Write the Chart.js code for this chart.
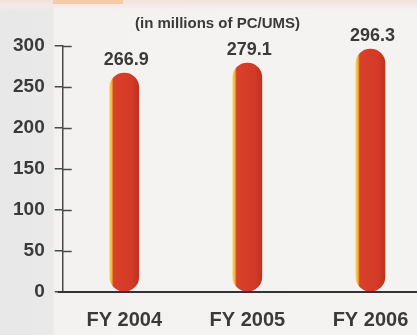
<!DOCTYPE html>
<html>
<head>
<meta charset="utf-8">
<script src="https://cdn.jsdelivr.net/npm/chart.js@4/dist/chart.umd.min.js"></script>
<style>
	html, body {
		margin: 0;
		padding: 0;
		width: 417px;
		height: 335px;
		overflow: hidden;
	}
	body {
		position: relative;
		background:
			linear-gradient(to bottom, #f2e2dc 0px, #f4ebe7 6px, rgba(0,0,0,0) 10px),
			linear-gradient(to right, #e8e8e8 0px, #e9e9e9 52px, #f4f2f1 55px, #f5f3f2 100%);
	}
	#band {
		position: absolute;
		left: 53px;
		top: 0;
		width: 70px;
		height: 4px;
		background: #f5cba8;
	}
	#wrap {
		position: absolute;
		left: 0;
		top: 0;
		width: 440px;
		height: 335px;
	}
</style>
</head>
<body>
<div id="band"></div>
<div id="wrap"><canvas id="pcChart" width="440" height="335"></canvas></div>
<script>
	var categories = ['FY 2004', 'FY 2005', 'FY 2006'];
	var volumes = [266.9, 279.1, 296.3];
	var yTicks = [0, 50, 100, 150, 200, 250, 300];

	var textColor = '#3a3a3a';
	var axisColor = '#4a4a4a';
	var fontFamily = '"Liberation Sans", Arial, sans-serif';
	var barWidth = 29;

	// yellow rim on the left, red body, darker right edge
	function barFill(context) {
		var chart = context.chart;
		var xScale = chart.scales.x;
		if (!xScale || !chart.chartArea) {
			return '#d33a27';
		}
		var cx = xScale.getPixelForValue(context.dataIndex);
		var g = chart.ctx.createLinearGradient(cx - barWidth / 2, 0, cx + barWidth / 2, 0);
		g.addColorStop(0, '#f7d04e');
		g.addColorStop(0.07, '#f1b23a');
		g.addColorStop(0.13, '#d9412a');
		g.addColorStop(0.75, '#d33a27');
		g.addColorStop(1, '#bd3220');
		return g;
	}

	// value above each bar
	var valueLabels = {
		id: 'valueLabels',
		afterDatasetsDraw: function(chart) {
			var ctx = chart.ctx;
			var meta = chart.getDatasetMeta(0);
			ctx.save();
			ctx.font = 'bold 18px ' + fontFamily;
			ctx.fillStyle = textColor;
			ctx.textAlign = 'center';
			ctx.textBaseline = 'bottom';
			meta.data.forEach(function(bar, i) {
				ctx.fillText(volumes[i].toFixed(1), bar.x + 2, bar.y - 4);
			});
			ctx.restore();
		}
	};

	// baseline and the inner half of the y ticks
	var axisMarks = {
		id: 'axisMarks',
		afterDatasetsDraw: function(chart) {
			var ctx = chart.ctx;
			var area = chart.chartArea;
			var y = chart.scales.y;
			ctx.save();
			ctx.strokeStyle = axisColor;
			ctx.lineWidth = 1.5;
			yTicks.forEach(function(v) {
				if (v === 0) return;
				var py = Math.round(y.getPixelForValue(v)) + 0.5;
				ctx.beginPath();
				ctx.moveTo(area.left, py);
				ctx.lineTo(area.left + 9, py);
				ctx.stroke();
			});
			ctx.strokeStyle = '#333';
			ctx.lineWidth = 2;
			ctx.beginPath();
			ctx.moveTo(area.left - 5, area.bottom);
			ctx.lineTo(chart.width, area.bottom);
			ctx.stroke();
			ctx.restore();
		}
	};

	var data = {
		labels: categories,
		datasets: [{
			data: volumes,
			backgroundColor: barFill,
			borderWidth: 0,
			borderRadius: 15,
			borderSkipped: false,
			barThickness: barWidth
		}]
	};

	var options = {
		responsive: false,
		animation: false,
		layout: {
			padding: { left: 3, right: 8, top: 0, bottom: 3 }
		},
		plugins: {
			legend: { display: false },
			tooltip: { enabled: false },
			title: {
				display: true,
				text: '(in millions of PC/UMS)',
				color: textColor,
				font: { family: fontFamily, size: 15, weight: 'bold' },
				padding: { top: 15, bottom: 13 }
			}
		},
		scales: {
			x: {
				afterFit: function(scale) {
					scale.height = 40;
				},
				grid: { display: false },
				border: { display: false },
				ticks: {
					color: textColor,
					padding: 8,
					font: { family: fontFamily, size: 20, weight: 'bold' }
				}
			},
			y: {
				min: 0,
				max: 300,
				afterBuildTicks: function(scale) {
					scale.ticks = yTicks.map(function(v) { return { value: v }; });
				},
				grid: {
					drawOnChartArea: false,
					drawTicks: true,
					tickLength: 8,
					color: axisColor,
					lineWidth: 1.5
				},
				border: { color: axisColor, width: 1.5 },
				ticks: {
					color: textColor,
					padding: 10,
					font: { family: fontFamily, size: 19, weight: 'bold' }
				}
			}
		}
	};

	var chart = new Chart(document.getElementById('pcChart'), {
		type: 'bar',
		data: data,
		options: options,
		plugins: [valueLabels, axisMarks]
	});
</script>
</body>
</html>
